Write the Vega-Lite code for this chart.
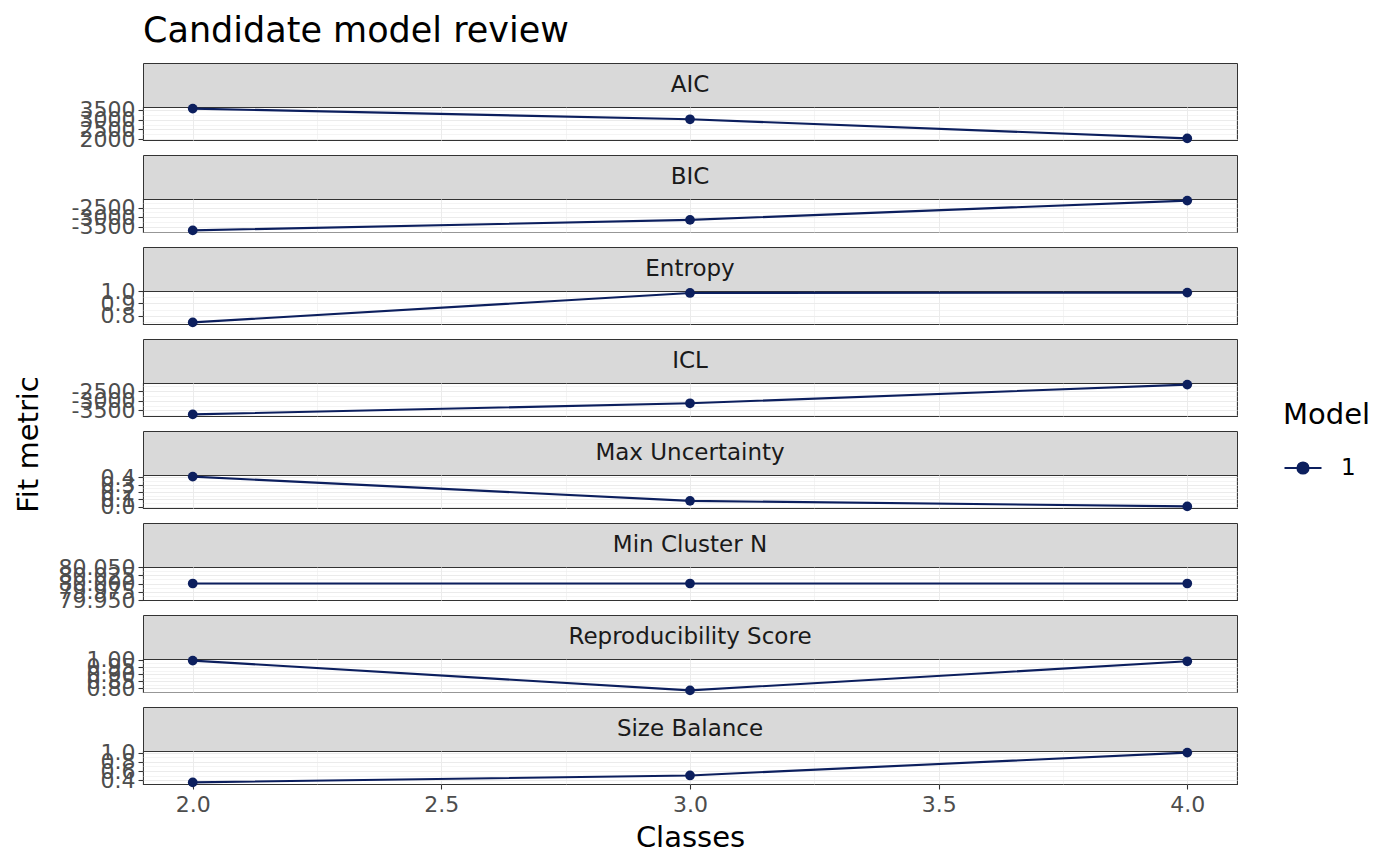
{
  "$schema": "https://vega.github.io/schema/vega-lite/v6.json",
  "padding": {"left": 13, "top": 13, "right": 10, "bottom": 8},
  "title": {
    "text": "Candidate model review",
    "anchor": "start",
    "frame": "group",
    "fontSize": 35,
    "fontWeight": "normal",
    "color": "#000000",
    "offset": 14
  },
  "data": {
    "values": [
      {"metric": "AIC", "classes": 2, "value": 3555, "model": "1"},
      {"metric": "AIC", "classes": 3, "value": 3015, "model": "1"},
      {"metric": "AIC", "classes": 4, "value": 2050, "model": "1"},
      {"metric": "BIC", "classes": 2, "value": -3680, "model": "1"},
      {"metric": "BIC", "classes": 3, "value": -3135, "model": "1"},
      {"metric": "BIC", "classes": 4, "value": -2135, "model": "1"},
      {"metric": "Entropy", "classes": 2, "value": 0.747, "model": "1"},
      {"metric": "Entropy", "classes": 3, "value": 0.985, "model": "1"},
      {"metric": "Entropy", "classes": 4, "value": 0.988, "model": "1"},
      {"metric": "ICL", "classes": 2, "value": -3710, "model": "1"},
      {"metric": "ICL", "classes": 3, "value": -3130, "model": "1"},
      {"metric": "ICL", "classes": 4, "value": -2155, "model": "1"},
      {"metric": "Max Uncertainty", "classes": 2, "value": 0.409, "model": "1"},
      {"metric": "Max Uncertainty", "classes": 3, "value": 0.081, "model": "1"},
      {"metric": "Max Uncertainty", "classes": 4, "value": 0.006, "model": "1"},
      {"metric": "Min Cluster N", "classes": 2, "value": 80, "model": "1"},
      {"metric": "Min Cluster N", "classes": 3, "value": 80, "model": "1"},
      {"metric": "Min Cluster N", "classes": 4, "value": 80, "model": "1"},
      {"metric": "Reproducibility Score", "classes": 2, "value": 0.995, "model": "1"},
      {"metric": "Reproducibility Score", "classes": 3, "value": 0.785, "model": "1"},
      {"metric": "Reproducibility Score", "classes": 4, "value": 0.99, "model": "1"},
      {"metric": "Size Balance", "classes": 2, "value": 0.355, "model": "1"},
      {"metric": "Size Balance", "classes": 3, "value": 0.505, "model": "1"},
      {"metric": "Size Balance", "classes": 4, "value": 0.998, "model": "1"}
    ]
  },
  "bounds": "flush",
  "spacing": 0,
  "vconcat": [
    {
      "width": 1094, "height": 44,
      "view": {"fill": "#d9d9d9", "stroke": "#333333"},
      "transform": [{"filter": "datum.metric == 'AIC' && datum.classes == 2"}],
      "mark": {"type": "text", "fontSize": 23, "color": "#1a1a1a"},
      "encoding": {"text": {"field": "metric", "type": "nominal"}}
    },
    {
      "width": 1094, "height": 33,
      "transform": [{"filter": "datum.metric == 'AIC'"}],
      "mark": {"type": "line", "strokeWidth": 2.1, "point": {"size": 95, "filled": true, "opacity": 1}},
      "encoding": {
        "x": {"field": "classes", "type": "quantitative", "scale": {"domain": [1.9, 4.1], "nice": false, "zero": false},
          "axis": {"title": null, "labels": false, "ticks": false, "values": [2, 2.25, 2.5, 2.75, 3, 3.25, 3.5, 3.75, 4],
            "gridWidth": {"condition": {"test": "datum.value % 0.5 != 0", "value": 0.55}, "value": 1.07}}},
        "y": {"field": "value", "type": "quantitative", "scale": {"zero": false, "nice": false, "padding": 1.6},
          "axis": {"title": null, "values": [2000, 2250, 2500, 2750, 3000, 3250, 3500],
            "labelExpr": "datum.value % 500 == 0 ? '' + datum.value : ''",
            "tickOpacity": {"condition": {"test": "datum.value % 500 != 0", "value": 0}, "value": 1},
            "gridWidth": {"condition": {"test": "datum.value % 500 != 0", "value": 0.55}, "value": 1.07}}},
        "color": {"field": "model", "type": "nominal", "scale": {"range": ["#0c1f5e"]},
          "legend": {"title": "Model", "orient": "none", "legendX": 1140, "legendY": 338,
            "titleFontSize": 29, "titleFontWeight": "normal", "titleColor": "#000000", "titlePadding": 18,
            "labelFontSize": 23, "labelColor": "#000000", "labelOffset": 18,
            "symbolType": "M-1,0L1,0M-0.3,0A0.3,0.3 0 1,0 0.3,0A0.3,0.3 0 1,0 -0.3,0",
            "symbolSize": 1369, "symbolStrokeWidth": 2.1, "symbolFillColor": "#0c1f5e", "symbolStrokeColor": "#0c1f5e"}}
      }
    },
    {
      "width": 1094, "height": 15, "view": {"stroke": null},
      "transform": [{"filter": "false"}],
      "mark": "text", "encoding": {}
    },
    {
      "width": 1094, "height": 44,
      "view": {"fill": "#d9d9d9", "stroke": "#333333"},
      "transform": [{"filter": "datum.metric == 'BIC' && datum.classes == 2"}],
      "mark": {"type": "text", "fontSize": 23, "color": "#1a1a1a"},
      "encoding": {"text": {"field": "metric", "type": "nominal"}}
    },
    {
      "width": 1094, "height": 33,
      "transform": [{"filter": "datum.metric == 'BIC'"}],
      "mark": {"type": "line", "strokeWidth": 2.1, "point": {"size": 95, "filled": true, "opacity": 1}},
      "encoding": {
        "x": {"field": "classes", "type": "quantitative", "scale": {"domain": [1.9, 4.1], "nice": false, "zero": false},
          "axis": {"title": null, "labels": false, "ticks": false, "values": [2, 2.25, 2.5, 2.75, 3, 3.25, 3.5, 3.75, 4],
            "gridWidth": {"condition": {"test": "datum.value % 0.5 != 0", "value": 0.55}, "value": 1.07}}},
        "y": {"field": "value", "type": "quantitative", "scale": {"zero": false, "nice": false, "padding": 1.6},
          "axis": {"title": null, "values": [-3750, -3500, -3250, -3000, -2750, -2500, -2250],
            "labelExpr": "datum.value % 500 == 0 ? '' + datum.value : ''",
            "tickOpacity": {"condition": {"test": "datum.value % 500 != 0", "value": 0}, "value": 1},
            "gridWidth": {"condition": {"test": "datum.value % 500 != 0", "value": 0.55}, "value": 1.07}}},
        "color": {"field": "model", "type": "nominal", "scale": {"range": ["#0c1f5e"]}}
      }
    },
    {
      "width": 1094, "height": 15, "view": {"stroke": null},
      "transform": [{"filter": "false"}],
      "mark": "text", "encoding": {}
    },
    {
      "width": 1094, "height": 44,
      "view": {"fill": "#d9d9d9", "stroke": "#333333"},
      "transform": [{"filter": "datum.metric == 'Entropy' && datum.classes == 2"}],
      "mark": {"type": "text", "fontSize": 23, "color": "#1a1a1a"},
      "encoding": {"text": {"field": "metric", "type": "nominal"}}
    },
    {
      "width": 1094, "height": 33,
      "transform": [{"filter": "datum.metric == 'Entropy'"}],
      "mark": {"type": "line", "strokeWidth": 2.1, "point": {"size": 95, "filled": true, "opacity": 1}},
      "encoding": {
        "x": {"field": "classes", "type": "quantitative", "scale": {"domain": [1.9, 4.1], "nice": false, "zero": false},
          "axis": {"title": null, "labels": false, "ticks": false, "values": [2, 2.25, 2.5, 2.75, 3, 3.25, 3.5, 3.75, 4],
            "gridWidth": {"condition": {"test": "datum.value % 0.5 != 0", "value": 0.55}, "value": 1.07}}},
        "y": {"field": "value", "type": "quantitative", "scale": {"zero": false, "nice": false, "padding": 1.6},
          "axis": {"title": null, "format": ".1f", "values": [0.75, 0.8, 0.85, 0.9, 0.95, 1.0],
            "labelExpr": "round(datum.value * 100) % 10 == 0 ? datum.label : ''",
            "tickOpacity": {"condition": {"test": "round(datum.value * 100) % 10 != 0", "value": 0}, "value": 1},
            "gridOpacity": {"condition": {"test": "round(datum.value * 100) == 100", "value": 0}, "value": 1},
            "gridWidth": {"condition": {"test": "round(datum.value * 100) % 10 != 0", "value": 0.55}, "value": 1.07}}},
        "color": {"field": "model", "type": "nominal", "scale": {"range": ["#0c1f5e"]}}
      }
    },
    {
      "width": 1094, "height": 15, "view": {"stroke": null},
      "transform": [{"filter": "false"}],
      "mark": "text", "encoding": {}
    },
    {
      "width": 1094, "height": 44,
      "view": {"fill": "#d9d9d9", "stroke": "#333333"},
      "transform": [{"filter": "datum.metric == 'ICL' && datum.classes == 2"}],
      "mark": {"type": "text", "fontSize": 23, "color": "#1a1a1a"},
      "encoding": {"text": {"field": "metric", "type": "nominal"}}
    },
    {
      "width": 1094, "height": 33,
      "transform": [{"filter": "datum.metric == 'ICL'"}],
      "mark": {"type": "line", "strokeWidth": 2.1, "point": {"size": 95, "filled": true, "opacity": 1}},
      "encoding": {
        "x": {"field": "classes", "type": "quantitative", "scale": {"domain": [1.9, 4.1], "nice": false, "zero": false},
          "axis": {"title": null, "labels": false, "ticks": false, "values": [2, 2.25, 2.5, 2.75, 3, 3.25, 3.5, 3.75, 4],
            "gridWidth": {"condition": {"test": "datum.value % 0.5 != 0", "value": 0.55}, "value": 1.07}}},
        "y": {"field": "value", "type": "quantitative", "scale": {"zero": false, "nice": false, "padding": 1.6},
          "axis": {"title": "Fit metric", "titleX": -100, "titleY": 61, "titleAngle": -90, "titleBaseline": "bottom", "titleAlign": "center",
            "values": [-3750, -3500, -3250, -3000, -2750, -2500, -2250],
            "labelExpr": "datum.value % 500 == 0 ? '' + datum.value : ''",
            "tickOpacity": {"condition": {"test": "datum.value % 500 != 0", "value": 0}, "value": 1},
            "gridWidth": {"condition": {"test": "datum.value % 500 != 0", "value": 0.55}, "value": 1.07}}},
        "color": {"field": "model", "type": "nominal", "scale": {"range": ["#0c1f5e"]}}
      }
    },
    {
      "width": 1094, "height": 15, "view": {"stroke": null},
      "transform": [{"filter": "false"}],
      "mark": "text", "encoding": {}
    },
    {
      "width": 1094, "height": 44,
      "view": {"fill": "#d9d9d9", "stroke": "#333333"},
      "transform": [{"filter": "datum.metric == 'Max Uncertainty' && datum.classes == 2"}],
      "mark": {"type": "text", "fontSize": 23, "color": "#1a1a1a"},
      "encoding": {"text": {"field": "metric", "type": "nominal"}}
    },
    {
      "width": 1094, "height": 33,
      "transform": [{"filter": "datum.metric == 'Max Uncertainty'"}],
      "mark": {"type": "line", "strokeWidth": 2.1, "point": {"size": 95, "filled": true, "opacity": 1}},
      "encoding": {
        "x": {"field": "classes", "type": "quantitative", "scale": {"domain": [1.9, 4.1], "nice": false, "zero": false},
          "axis": {"title": null, "labels": false, "ticks": false, "values": [2, 2.25, 2.5, 2.75, 3, 3.25, 3.5, 3.75, 4],
            "gridWidth": {"condition": {"test": "datum.value % 0.5 != 0", "value": 0.55}, "value": 1.07}}},
        "y": {"field": "value", "type": "quantitative", "scale": {"zero": false, "nice": false, "padding": 1.6},
          "axis": {"title": null, "format": ".1f", "values": [0, 0.05, 0.1, 0.15, 0.2, 0.25, 0.3, 0.35, 0.4],
            "labelExpr": "round(datum.value * 100) % 10 == 0 ? datum.label : ''",
            "tickOpacity": {"condition": {"test": "round(datum.value * 100) % 10 != 0", "value": 0}, "value": 1},
            "gridWidth": {"condition": {"test": "round(datum.value * 100) % 10 != 0", "value": 0.55}, "value": 1.07}}},
        "color": {"field": "model", "type": "nominal", "scale": {"range": ["#0c1f5e"]}}
      }
    },
    {
      "width": 1094, "height": 15, "view": {"stroke": null},
      "transform": [{"filter": "false"}],
      "mark": "text", "encoding": {}
    },
    {
      "width": 1094, "height": 44,
      "view": {"fill": "#d9d9d9", "stroke": "#333333"},
      "transform": [{"filter": "datum.metric == 'Min Cluster N' && datum.classes == 2"}],
      "mark": {"type": "text", "fontSize": 23, "color": "#1a1a1a"},
      "encoding": {"text": {"field": "metric", "type": "nominal"}}
    },
    {
      "width": 1094, "height": 33,
      "transform": [{"filter": "datum.metric == 'Min Cluster N'"}],
      "mark": {"type": "line", "strokeWidth": 2.1, "point": {"size": 95, "filled": true, "opacity": 1}},
      "encoding": {
        "x": {"field": "classes", "type": "quantitative", "scale": {"domain": [1.9, 4.1], "nice": false, "zero": false},
          "axis": {"title": null, "labels": false, "ticks": false, "values": [2, 2.25, 2.5, 2.75, 3, 3.25, 3.5, 3.75, 4],
            "gridWidth": {"condition": {"test": "datum.value % 0.5 != 0", "value": 0.55}, "value": 1.07}}},
        "y": {"field": "value", "type": "quantitative", "scale": {"domain": [79.95, 80.05], "zero": false, "nice": false},
          "axis": {"title": null, "format": ".3f", "values": [79.95, 79.9625, 79.975, 79.9875, 80, 80.0125, 80.025, 80.0375, 80.05],
            "labelExpr": "round(datum.value * 10000) % 250 == 0 ? datum.label : ''",
            "tickOpacity": {"condition": {"test": "round(datum.value * 10000) % 250 != 0", "value": 0}, "value": 1},
            "gridOpacity": {"condition": {"test": "round(datum.value * 10000) == 800500 || round(datum.value * 10000) == 799500", "value": 0}, "value": 1},
            "gridWidth": {"condition": {"test": "round(datum.value * 10000) % 250 != 0", "value": 0.55}, "value": 1.07}}},
        "color": {"field": "model", "type": "nominal", "scale": {"range": ["#0c1f5e"]}}
      }
    },
    {
      "width": 1094, "height": 15, "view": {"stroke": null},
      "transform": [{"filter": "false"}],
      "mark": "text", "encoding": {}
    },
    {
      "width": 1094, "height": 44,
      "view": {"fill": "#d9d9d9", "stroke": "#333333"},
      "transform": [{"filter": "datum.metric == 'Reproducibility Score' && datum.classes == 2"}],
      "mark": {"type": "text", "fontSize": 23, "color": "#1a1a1a"},
      "encoding": {"text": {"field": "metric", "type": "nominal"}}
    },
    {
      "width": 1094, "height": 33,
      "transform": [{"filter": "datum.metric == 'Reproducibility Score'"}],
      "mark": {"type": "line", "strokeWidth": 2.1, "point": {"size": 95, "filled": true, "opacity": 1}},
      "encoding": {
        "x": {"field": "classes", "type": "quantitative", "scale": {"domain": [1.9, 4.1], "nice": false, "zero": false},
          "axis": {"title": null, "labels": false, "ticks": false, "values": [2, 2.25, 2.5, 2.75, 3, 3.25, 3.5, 3.75, 4],
            "gridWidth": {"condition": {"test": "datum.value % 0.5 != 0", "value": 0.55}, "value": 1.07}}},
        "y": {"field": "value", "type": "quantitative", "scale": {"zero": false, "nice": false, "padding": 1.6},
          "axis": {"title": null, "format": ".2f", "values": [0.775, 0.8, 0.825, 0.85, 0.875, 0.9, 0.925, 0.95, 0.975, 1.0],
            "labelExpr": "round(datum.value * 1000) % 50 == 0 ? datum.label : ''",
            "tickOpacity": {"condition": {"test": "round(datum.value * 1000) % 50 != 0", "value": 0}, "value": 1},
            "gridOpacity": {"condition": {"test": "round(datum.value * 1000) == 1000", "value": 0}, "value": 1},
            "gridWidth": {"condition": {"test": "round(datum.value * 1000) % 50 != 0", "value": 0.55}, "value": 1.07}}},
        "color": {"field": "model", "type": "nominal", "scale": {"range": ["#0c1f5e"]}}
      }
    },
    {
      "width": 1094, "height": 15, "view": {"stroke": null},
      "transform": [{"filter": "false"}],
      "mark": "text", "encoding": {}
    },
    {
      "width": 1094, "height": 44,
      "view": {"fill": "#d9d9d9", "stroke": "#333333"},
      "transform": [{"filter": "datum.metric == 'Size Balance' && datum.classes == 2"}],
      "mark": {"type": "text", "fontSize": 23, "color": "#1a1a1a"},
      "encoding": {"text": {"field": "metric", "type": "nominal"}}
    },
    {
      "width": 1094, "height": 33,
      "transform": [{"filter": "datum.metric == 'Size Balance'"}],
      "mark": {"type": "line", "strokeWidth": 2.1, "point": {"size": 95, "filled": true, "opacity": 1}},
      "encoding": {
        "x": {"field": "classes", "type": "quantitative", "scale": {"domain": [1.9, 4.1], "nice": false, "zero": false},
          "axis": {"title": "Classes", "format": ".1f", "values": [2, 2.25, 2.5, 2.75, 3, 3.25, 3.5, 3.75, 4],
            "labelExpr": "datum.value % 0.5 == 0 ? datum.label : ''",
            "tickOpacity": {"condition": {"test": "datum.value % 0.5 != 0", "value": 0}, "value": 1},
            "labelPadding": 5, "titlePadding": 8,
            "gridWidth": {"condition": {"test": "datum.value % 0.5 != 0", "value": 0.55}, "value": 1.07}}},
        "y": {"field": "value", "type": "quantitative", "scale": {"zero": false, "nice": false, "padding": 1.6},
          "axis": {"title": null, "format": ".1f", "values": [0.4, 0.5, 0.6, 0.7, 0.8, 0.9, 1.0],
            "labelExpr": "round(datum.value * 10) % 2 == 0 ? datum.label : ''",
            "tickOpacity": {"condition": {"test": "round(datum.value * 10) % 2 != 0", "value": 0}, "value": 1},
            "gridWidth": {"condition": {"test": "round(datum.value * 10) % 2 != 0", "value": 0.55}, "value": 1.07}}},
        "color": {"field": "model", "type": "nominal", "scale": {"range": ["#0c1f5e"]}}
      }
    }
  ],
  "config": {
    "font": "DejaVu Sans",
    "view": {"stroke": "#333333", "strokeWidth": 1.07},
    "axis": {
      "domain": false,
      "labelFontSize": 22,
      "labelColor": "#4d4d4d",
      "labelFlush": false,
      "labelOverlap": false,
      "labelPadding": 3,
      "tickColor": "#333333",
      "tickSize": 5,
      "tickWidth": 1.07,
      "gridColor": "#ebebeb",
      "titleFontSize": 29,
      "titleFontWeight": "normal",
      "titleColor": "#000000"
    }
  }
}
